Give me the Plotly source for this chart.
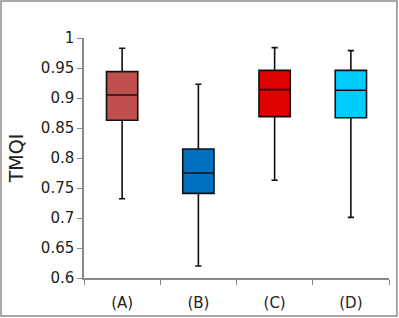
import plotly.graph_objects as go

categories = ["(A)", "(B)", "(C)", "(D)"]
lower = [0.732, 0.620, 0.763, 0.701]
q1 = [0.863, 0.741, 0.869, 0.867]
median = [0.905, 0.775, 0.914, 0.913]
q3 = [0.944, 0.815, 0.946, 0.946]
upper = [0.983, 0.923, 0.984, 0.979]
colors = ["#C0504D", "#0070C0", "#E00000", "#00CCFF"]

fig = go.Figure()
for i, c in enumerate(categories):
    fig.add_trace(go.Box(
        x=[c], q1=[q1[i]], median=[median[i]], q3=[q3[i]],
        lowerfence=[lower[i]], upperfence=[upper[i]],
        fillcolor=colors[i], line=dict(color="#111111", width=1.6),
        width=0.41, whiskerwidth=0.2, boxpoints=False, showlegend=False,
        hoverinfo="skip",
    ))

font = "DejaVu Sans"
fig.update_layout(
    width=399, height=318,
    margin=dict(l=84, r=10, t=38, b=40),
    paper_bgcolor="white", plot_bgcolor="white",
    boxmode="overlay",
    font=dict(family=font, size=15, color="#222222"),
    xaxis=dict(categoryorder="array", categoryarray=categories,
               showline=True, linecolor="#888888", linewidth=1.5,
               ticks="outside", tickson="boundaries", ticklen=5,
               tickcolor="#888888", showgrid=False, range=[-0.5, 3.5],
               tickfont=dict(size=15), ticklabelstandoff=10,
               automargin=False),
    yaxis=dict(range=[0.6, 1.0], dtick=0.05, showline=True,
               linecolor="#888888", linewidth=1.5, ticks="outside",
               ticklen=5, tickcolor="#888888", showgrid=False,
               zeroline=False, tickformat="~r", automargin=False,
               title=dict(text="TMQI", font=dict(size=19), standoff=12)),
    shapes=[dict(type="rect", xref="paper", yref="paper",
                 x0=-0.272, x1=1.026, y0=-0.158, y1=1.154,
                 line=dict(color="#8C8C8C", width=1.5), layer="below")],
)
fig.write_html("out.html", config={"displayModeBar": False},
               post_script="document.body.style.margin='0';")
